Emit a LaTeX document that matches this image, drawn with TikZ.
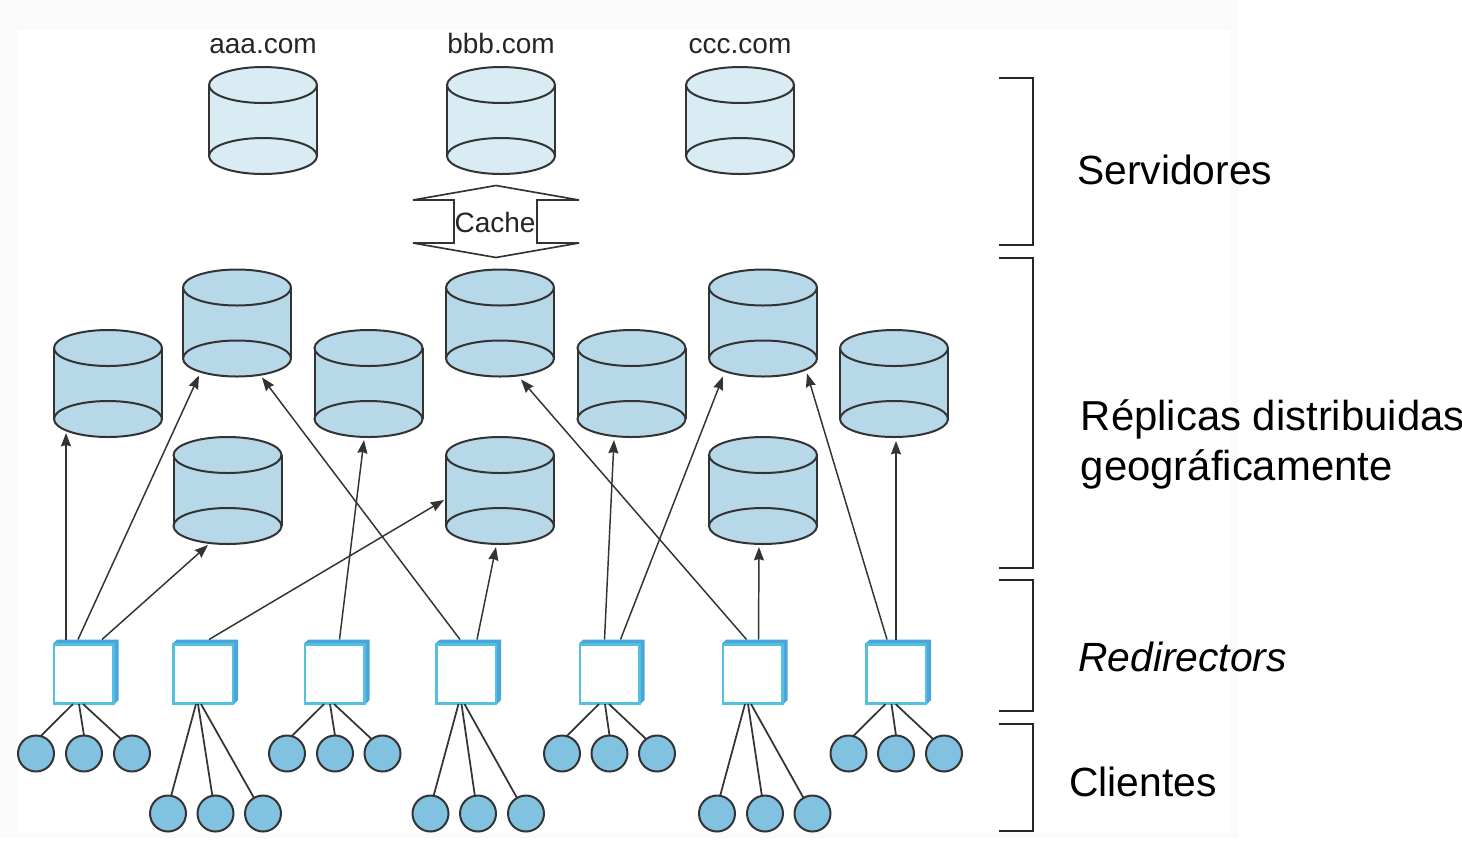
\documentclass[tikz,border=0pt]{standalone}
\usepackage{fontspec}
\setmainfont{Liberation Sans}
\usetikzlibrary{arrows.meta}
\definecolor{srvfill}{HTML}{D9ECF4}
\definecolor{repfill}{HTML}{B6D8E8}
\definecolor{cltfill}{HTML}{82C2E1}
\definecolor{boxband}{HTML}{4AA5DA}
\definecolor{boxline}{HTML}{55BFE2}
\definecolor{inkline}{HTML}{333333}
\tikzset{
  diskline/.style={draw=inkline,line width=1.5pt},
  diskbox/.style={minimum width=81pt,minimum height=80.25pt,inner sep=0pt,outer sep=0pt},
  redirbox/.style={minimum width=48.75pt,minimum height=48.4pt,inner sep=0pt,outer sep=0pt},
  client/.style={circle,diskline,fill=cltfill,minimum size=27pt,inner sep=0pt,outer sep=0pt},
  feed/.style={draw=inkline,line width=1.3pt},
  request/.style={draw=inkline,line width=1.1pt,-{Stealth[length=10pt,width=7.5pt,inset=1pt]}},
  brace/.style={draw=black!85,line width=1.1pt},
  smalltxt/.style={font=\fontsize{21}{25}\selectfont,inner sep=0pt,text=black!85},
  bigtxt/.style={font=\fontsize{30.6}{37.5}\selectfont,inner sep=0pt,anchor=west,align=left}
}
% name, x, y of the top edge, colour
\newcommand{\disk}[4]{
  \node[diskbox] (#1) at (#2,#3+53.5) {};
  \fill[#4] (#2-54,#3+18) rectangle (#2+54,#3+89);
  \draw[diskline] (#2-54,#3+18) -- (#2-54,#3+89);
  \draw[diskline] (#2+54,#3+18) -- (#2+54,#3+89);
  \draw[diskline,fill=#4] (#2,#3+18) ellipse [x radius=54,y radius=18];
  \draw[diskline,fill=#4] (#2,#3+89) ellipse [x radius=54,y radius=18];
}
% name, x of the left edge
\newcommand{\redir}[2]{
  \node[redirbox] (#1) at (#2+32.5,671.75) {};
  \fill[boxband] (#2,643) -- (#2+4,639.5) -- (#2+65,639.5) -- (#2+65,700) -- (#2+61,704) -- (#2,704) -- cycle;
  \draw[boxline,line width=1.6pt,fill=white] (#2+0.5,644.5) rectangle (#2+60,703.5);
}
\begin{document}
\begin{tikzpicture}[x=0.75pt,y=-0.75pt]
\useasboundingbox (0,0) rectangle (1462,844);
\fill[white] (0,0) rectangle (1462,844);
\fill[black!2] (0,0) rectangle (1238,838);
\fill[white] (17,30) rectangle (1231,832);
% servers
\disk{srvA}{263}{67}{srvfill}
\disk{srvB}{501}{67}{srvfill}
\disk{srvC}{740}{67}{srvfill}
\node[smalltxt,anchor=base] (nameA) at (263,53) {aaa.com};
\node[smalltxt,anchor=base] (nameB) at (501,53) {bbb.com};
\node[smalltxt,anchor=base] (nameC) at (740,53) {ccc.com};
% cache arrow
\draw[diskline,line width=1.25pt,fill=white] (496,185.5) -- (579,200) -- (537,200) -- (537,243) -- (579,243) -- (496,257.5) -- (413,243) -- (454,243) -- (454,200) -- (413,200) -- cycle;
\node[smalltxt] (cache) at (495,222) {Cache};
% replicas
\disk{repA}{108}{330}{repfill}
\disk{repB}{237}{269.5}{repfill}
\disk{repC}{368.5}{330}{repfill}
\disk{repD}{500}{269.5}{repfill}
\disk{repE}{631.5}{330}{repfill}
\disk{repF}{763}{269.5}{repfill}
\disk{repG}{894}{330}{repfill}
\disk{repH}{227.5}{437}{repfill}
\disk{repI}{500}{437}{repfill}
\disk{repJ}{763}{437}{repfill}
% redirectors
\redir{dirA}{53.5}
\redir{dirB}{173}
\redir{dirC}{304.5}
\redir{dirD}{436}
\redir{dirE}{579.5}
\redir{dirF}{722.5}
\redir{dirG}{866}
% clients
\node[client] (cA1) at (36,753.5) {};
\node[client] (cA2) at (84,753.5) {};
\node[client] (cA3) at (132,753.5) {};
\node[client] (cB1) at (168,813.5) {};
\node[client] (cB2) at (215.5,813.5) {};
\node[client] (cB3) at (263,813.5) {};
\node[client] (cC1) at (287,753.5) {};
\node[client] (cC2) at (335,753.5) {};
\node[client] (cC3) at (382.5,753.5) {};
\node[client] (cD1) at (430.5,813.5) {};
\node[client] (cD2) at (478,813.5) {};
\node[client] (cD3) at (526,813.5) {};
\node[client] (cE1) at (562,753.5) {};
\node[client] (cE2) at (609.5,753.5) {};
\node[client] (cE3) at (657,753.5) {};
\node[client] (cF1) at (717,813.5) {};
\node[client] (cF2) at (765,813.5) {};
\node[client] (cF3) at (812.5,813.5) {};
\node[client] (cG1) at (848.5,753.5) {};
\node[client] (cG2) at (896,753.5) {};
\node[client] (cG3) at (944,753.5) {};
% clients to redirectors
\draw[feed] ([shift={(-13,0)}]dirA.south) -- (cA1.75);
\draw[feed] ([shift={(-7,0)}]dirA.south) -- (cA2.90);
\draw[feed] ([shift={(-3,0)}]dirA.south) -- (cA3.127);
\draw[feed] ([shift={(-9.5,0)}]dirB.south) -- (cB1.80);
\draw[feed] ([shift={(-7.5,0)}]dirB.south) -- (cB2.100);
\draw[feed] ([shift={(-4.5,0)}]dirB.south) -- (cB3.120);
\draw[feed] ([shift={(-13,0)}]dirC.south) -- (cC1.75);
\draw[feed] ([shift={(-7,0)}]dirC.south) -- (cC2.90);
\draw[feed] ([shift={(-3,0)}]dirC.south) -- (cC3.127);
\draw[feed] ([shift={(-10,0)}]dirD.south) -- (cD1.80);
\draw[feed] ([shift={(-7,0)}]dirD.south) -- (cD2.100);
\draw[feed] ([shift={(-4,0)}]dirD.south) -- (cD3.120);
\draw[feed] ([shift={(-13,0)}]dirE.south) -- (cE1.75);
\draw[feed] ([shift={(-7,0)}]dirE.south) -- (cE2.90);
\draw[feed] ([shift={(-3,0)}]dirE.south) -- (cE3.127);
\draw[feed] ([shift={(-10,0)}]dirF.south) -- (cF1.80);
\draw[feed] ([shift={(-7,0)}]dirF.south) -- (cF2.100);
\draw[feed] ([shift={(-4,0)}]dirF.south) -- (cF3.120);
\draw[feed] ([shift={(-13,0)}]dirG.south) -- (cG1.75);
\draw[feed] ([shift={(-7,0)}]dirG.south) -- (cG2.90);
\draw[feed] ([shift={(-3,0)}]dirG.south) -- (cG3.127);
% redirectors to replicas
\draw[request] ([shift={(-20,0)}]dirA.north) -- ([shift={(-42,-4)}]repA.south);
\draw[request] ([shift={(-8,0)}]dirA.north) -- ([shift={(-38,-1)}]repB.south);
\draw[request] ([shift={(16,0)}]dirA.north) -- ([shift={(-19.5,1)}]repH.south);
\draw[request] ([shift={(3.5,0)}]dirB.north) -- ([shift={(-2,9.5)}]repI.west);
\draw[request] ([shift={(2.5,0)}]dirC.north) -- ([shift={(-4.5,3)}]repC.south);
\draw[request] ([shift={(-8.5,0)}]dirD.north) -- ([shift={(25,1)}]repB.south);
\draw[request] ([shift={(8.5,0)}]dirD.north) -- ([shift={(-4,3)}]repI.south);
\draw[request] ([shift={(-7.5,0)}]dirE.north) -- ([shift={(-17.5,3)}]repE.south);
\draw[request] ([shift={(8.5,0)}]dirE.north) -- ([shift={(-40,0)}]repF.south);
\draw[request] ([shift={(-8.5,0)}]dirF.north) -- ([shift={(21,3)}]repD.south);
\draw[request] ([shift={(3.5,0)}]dirF.north) -- ([shift={(-4,3)}]repJ.south);
\draw[request] ([shift={(-11.5,0)}]dirG.north) -- ([shift={(44,-3)}]repF.south);
\draw[request] ([shift={(-2.5,0)}]dirG.north) -- ([shift={(2,4)}]repG.south);
% brackets and their labels
\draw[brace] (999,78) -- (1033,78) -- (1033,245) -- (999,245);
\draw[brace] (999,258) -- (1033,258) -- (1033,568) -- (999,568);
\draw[brace] (999,580) -- (1033,580) -- (1033,711) -- (999,711);
\draw[brace] (999,724) -- (1033,724) -- (1033,831) -- (999,831);
\node[bigtxt] (lblSrv) at (1077,170) {Servidores};
\node[bigtxt,font=\fontsize{31.4}{37.5}\selectfont] (lblRep) at (1080.5,444.5) {Réplicas distribuidas\\geográficamente};
\node[bigtxt] (lblDir) at (1078,657) {\itshape Redirectors};
\node[bigtxt] (lblClt) at (1069,782) {Clientes};
\end{tikzpicture}
\end{document}
